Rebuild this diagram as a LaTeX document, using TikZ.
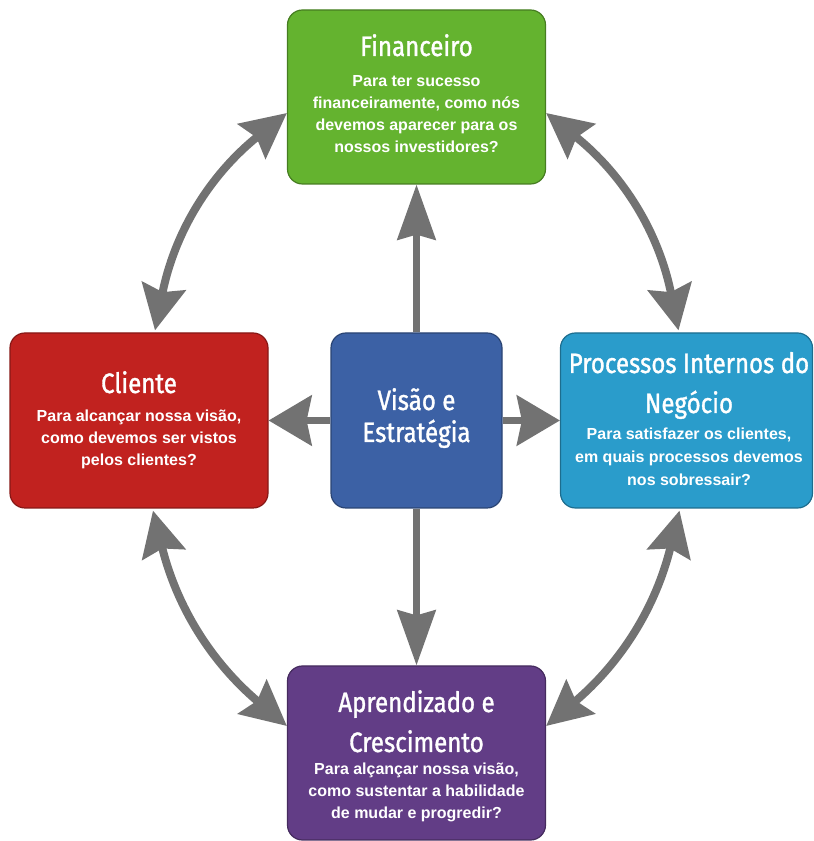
\documentclass[tikz,border=0pt]{standalone}
\usepackage{fontspec}
\setmainfont{Liberation Sans}
\newfontfamily\titlefont[FakeStretch=0.86,FakeBold=1.2]{Fira Sans}
\usetikzlibrary{arrows.meta,calc}
\definecolor{cfin}{HTML}{64B32F}
\definecolor{ccli}{HTML}{C1221F}
\definecolor{cviz}{HTML}{3C61A5}
\definecolor{cpro}{HTML}{2A9CCB}
\definecolor{capr}{HTML}{623D86}
\definecolor{carrow}{HTML}{727272}
\begin{document}
\begin{tikzpicture}[x=1pt,y=1pt,
  box/.style={rectangle, rounded corners=15pt, inner sep=0pt, line width=1.2pt},
  ttl/.style={text=white, align=center, inner sep=0pt, anchor=base,
    font=\titlefont\fontsize{28}{40}\selectfont},
  bdy/.style={text=white, align=center, inner sep=0pt, anchor=base,
    font=\bfseries\fontsize{16}{22}\selectfont},
  straight/.style={draw=carrow, line width=7pt},
  vtip/.style={-{Stealth[length=55pt,width=38pt,inset=5pt]}},
  htip/.style={-{Stealth[length=43pt,width=50pt,inset=5pt]}},
  curved/.style={draw=carrow, line width=8pt,
    {Stealth[length=45pt,width=44pt,inset=6pt]}-{Stealth[length=45pt,width=44pt,inset=6pt]}}
]
\useasboundingbox (0,0) rectangle (814,841);

% boxes
\node[box, fill=cfin, draw=cfin!70!black, minimum width=258pt, minimum height=174pt] (fin) at (416.5,744) {};
\node[box, fill=ccli, draw=ccli!70!black, minimum width=258pt, minimum height=175pt] (cli) at (139,420.5) {};
\node[box, fill=cviz, draw=cviz!70!black, minimum width=171pt, minimum height=175pt] (viz) at (416.5,420.5) {};
\node[box, fill=cpro, draw=cpro!70!black, minimum width=252pt, minimum height=175pt] (pro) at (686.5,420.5) {};
\node[box, fill=capr, draw=capr!70!black, minimum width=258pt, minimum height=174pt] (apr) at (416.5,88) {};

% straight arrows
\draw[straight, vtip] (viz) -- (fin);
\draw[straight, vtip] (viz) -- (apr);
\draw[straight, htip] (viz) -- (cli);
\draw[straight, htip] (viz) -- (pro);

% curved arrows
\draw[curved] ([xshift=16pt,yshift=2pt]cli.north) to[bend left=20] ([yshift=-16pt]fin.west);
\draw[curved] ([yshift=-16pt]fin.east) to[bend left=20] ([xshift=-8pt,yshift=2pt]pro.north);
\draw[curved] ([xshift=14pt,yshift=-2pt]cli.south) to[bend right=18] ([yshift=27pt]apr.west);
\draw[curved] ([xshift=-7pt,yshift=-2pt]pro.south) to[bend left=18] ([yshift=27pt]apr.east);

% texts (base = baseline of the last line)
\node[ttl] (fin-t) at (416.5,785) {Financeiro};
\node[bdy] (fin-b) at (416.5,688) {Para ter sucesso\\financeiramente, como nós\\devemos aparecer para os\\nossos investidores?};

\node[ttl] (cli-t) at (139,448) {Cliente};
\node[bdy] (cli-b) at (139,375) {Para alcançar nossa visão,\\como devemos ser vistos\\pelos clientes?};

\node[ttl, font=\titlefont\fontsize{28}{32}\selectfont] (viz-t) at (416.5,399) {Visão e\\Estratégia};

\node[ttl] (pro-t) at (689,428) {Processos Internos do\\Negócio};
\node[bdy, font=\bfseries\fontsize{16}{23}\selectfont] (pro-b) at (689,355) {Para satisfazer os clientes,\\em quais processos devemos\\nos sobressair?};

\node[ttl] (apr-t) at (416.5,89) {Aprendizado e\\Crescimento};
\node[bdy] (apr-b) at (416.5,22) {Para alçançar nossa visão,\\como sustentar a habilidade\\de mudar e progredir?};
\end{tikzpicture}
\end{document}
